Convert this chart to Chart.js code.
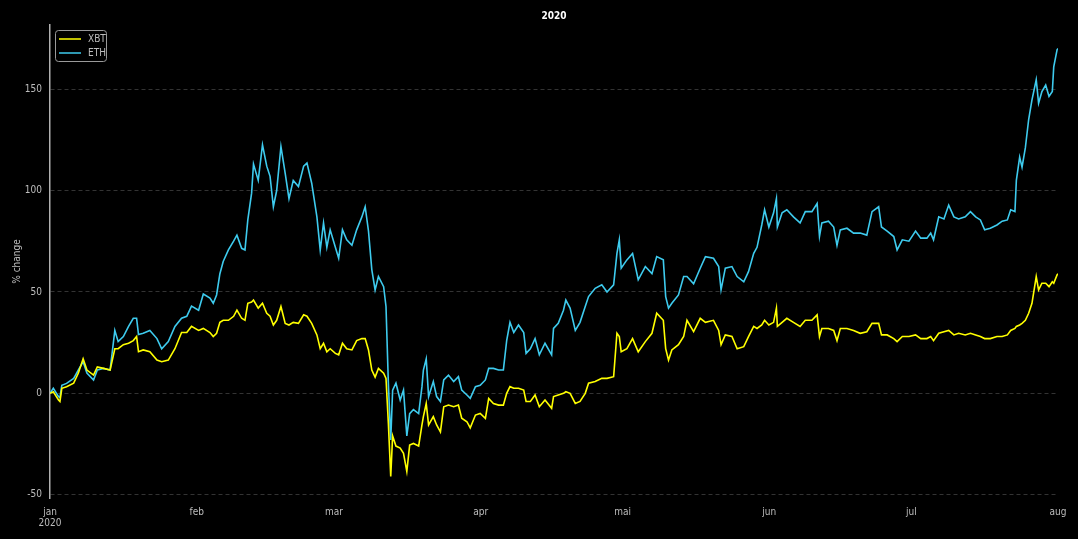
<!DOCTYPE html>
<html>
<head>
<meta charset="utf-8">
<script src="https://cdn.jsdelivr.net/npm/chart.js@4.4.0/dist/chart.umd.min.js"></script>
<style>
  html, body { margin: 0; padding: 0; background: #000; }
  #wrap { width: 1078px; height: 539px; }
</style>
</head>
<body>
<div id="wrap"><canvas id="pctChart" width="1078" height="539"></canvas></div>
<script>
// days since 1 jan 2020
const days = [0, 0.7, 1.8, 2.1, 2.5, 3.5, 5, 6, 7, 7.8, 9.2, 10, 11.3, 12.7, 13.7, 14.4, 15.5, 16.6, 17.6, 18.3,
  18.7, 19.7, 21.1, 22.6, 23.6, 25, 26.4, 27.8, 28.9, 29.9, 31.4, 32.4, 33.8, 34.5, 35.2, 35.9, 36.6, 37.7, 38.8, 39.5,
  40.5, 41.2, 41.8, 42.6, 43, 44, 44.9, 45.8, 46.5, 47.2, 47.9, 48.8, 49.7, 50.5, 51.4, 52.5, 53.6, 54.3, 55.3, 56.4,
  57.1, 57.8, 58.5, 59.2, 60.3, 61, 61.8, 62.7, 63.8, 64.8, 65.9, 66.6, 67.3, 68, 68.7, 69.4, 70.5, 71, 71.5, 72,
  72.4, 73.1, 74, 74.7, 75.4, 76, 76.8, 77.9, 78.6, 78.9, 79.5, 80, 81, 81.7, 82.5, 83.2, 84.2, 85.3, 86.3, 87,
  88.1, 88.8, 89.9, 90.9, 92, 92.7, 93.7, 94.8, 95.8, 96.5, 97.2, 98, 99, 100.1, 100.6, 101.5, 102.5, 103.4, 104.6, 106,
  106.4, 107.4, 108.5, 109, 109.9, 111, 112, 113.1, 113.8, 115.2, 116.6, 117.7, 119.1, 119.8, 120.3, 120.7, 121.9, 123.1, 124.3, 125.8,
  127.2, 128.2, 129.6, 130.1, 130.7, 131.4, 132.8, 133.9, 134.6, 136, 137.4, 138.5, 140.2, 141.3, 141.8, 142.7, 144.1, 145.2, 146.6, 147.6,
  148.7, 149.4, 150.4, 151, 151.9, 152.9, 153.5, 153.7, 154.7, 155.7, 157.1, 158.5, 159.6, 161, 162.1, 162.6, 163.1, 164.5, 165.6, 166.3,
  167, 168.4, 169.8, 171.2, 172.6, 173.7, 175.1, 175.7, 176.9, 178.3, 179, 180.1, 181.5, 182.9, 184, 185.3, 186.1, 186.7, 187.8, 188.9,
  189.9, 191, 192, 193.4, 194.5, 195.6, 196.6, 197.5, 198.7, 200.1, 201.2, 202.3, 203, 203.9, 204.2, 204.9, 205.4, 206.1, 206.8, 207.5,
  208.4, 208.9, 209.6, 210.4, 211.1, 211.8, 212.1, 212.8, 213];

const xbt = [0, 0.8, -3.3, -4, 2.5, 3.3, 5, 10, 17, 11.5, 9, 13, 12.3, 11.5, 22, 22, 24, 24.7, 26, 28,
  20.5, 21.4, 20.5, 16.4, 15.6, 16.4, 22, 30, 30, 33, 31, 32, 30, 28, 29.6, 35, 36, 36, 38, 41,
  37, 36, 44.4, 45, 46, 42, 44.4, 39.5, 38, 33.7, 36, 42.8, 34.5, 33.7, 35, 34.5, 38.7, 38, 34.5, 28.8,
  22, 24.7, 20.5, 22, 19.7, 19, 24.7, 22, 21.4, 26, 27, 27, 21.4, 11.5, 8, 12.3, 9.9, 7.4, -14.8, -41,
  -21, -26, -27, -29.6, -38.5, -25.5, -24.7, -26, -15.6, -11.5, -5, -15.6, -11.5, -15.6, -19, -6.6, -5.8, -6.6, -5.8, -12.3,
  -14, -17, -10.7, -9.9, -12.3, -2.5, -5, -5.8, -5.8, 0, 3.3, 2.5, 2.5, 1.6, -4, -4, -0.8, -6.6, -3.3, -7.4,
  -1.6, -0.8, 0, 0.8, 0, -5, -4, 0, 5, 5.8, 7.4, 7.4, 8.2, 29.6, 28, 20.5, 22, 27, 20.5, 25.5,
  29.6, 39.5, 36, 22, 16.4, 21.4, 24, 28, 36, 30.4, 37, 35, 36, 31, 24, 28.8, 28, 22, 23, 28,
  33, 32, 33.7, 36, 33.7, 35, 42, 33, 35, 37, 35, 33, 36, 36, 38.7, 28, 32, 32, 31, 26,
  32, 32, 31, 29.6, 30.4, 34.5, 34.5, 28.8, 28.8, 27, 25.5, 28, 28, 28.8, 27, 27, 28, 26, 29.6, 30.4,
  31, 28.8, 29.6, 28.8, 29.6, 28.8, 28, 27, 27, 28, 28, 28.8, 31, 32, 33, 33.7, 34.5, 36, 39.5, 44.4,
  57.6, 51, 54.3, 54.3, 52.6, 55, 54.3, 58.4, 59];

const eth = [0, 2.5, -1.6, -2, 4, 4.9, 7.4, 11.5, 15.6, 10, 6.6, 11.5, 12.3, 11.5, 31, 25.5, 28, 33, 37, 37,
  29, 29.6, 31, 27, 22, 25.5, 33, 37, 38, 43, 41, 49, 47, 44.4, 48.5, 59, 65, 70.7, 75, 78,
  71.5, 70.7, 85.5, 98.7, 113, 105, 122.5, 112, 107, 92, 100, 121.7, 108.5, 96, 105, 102, 112, 113.5, 103.6, 87,
  70.7, 84, 72, 80.6, 72, 66.6, 80.6, 75.7, 73, 80.6, 87, 92, 80, 61, 51, 57.6, 52.6, 42.8, 5, -23,
  1.6, 5, -3.3, 1.6, -21, -10, -8, -10, 3.3, 11.5, 17, -1.6, 5.8, -1.6, -4, 6.6, 9, 5.8, 8.2, 1.6,
  -0.8, -2.5, 3.3, 4, 6.6, 12.3, 12.3, 11.5, 11.5, 26, 35, 30, 33.7, 30, 19.7, 22, 27, 19, 24.7, 19,
  32, 34.5, 41, 46, 42, 31, 35, 42.8, 47.7, 51.8, 53.5, 50, 53.5, 69, 75.7, 61.7, 65.8, 69, 56, 62.5,
  59, 67.4, 65.8, 47.7, 42, 44.4, 48.5, 57.6, 57.6, 54, 61.7, 67.4, 66.6, 62.5, 51, 61.7, 62.5, 57.6, 55, 60,
  69, 72, 83, 90.5, 82, 89, 96, 82, 89, 90.5, 87, 84, 89.6, 89.6, 93.6, 77.3, 84, 84.9, 82, 73,
  80.6, 81.4, 79, 79, 78, 89.6, 92, 82, 80, 77.3, 70.7, 75.7, 75, 80, 76.5, 76.5, 79, 75.7, 87, 86,
  92.8, 87, 86, 87, 89.6, 87, 85.5, 80.6, 81.4, 83, 84.9, 85.5, 90.5, 89.6, 105, 116.5, 111.5, 121, 135, 144.7,
  154.6, 143, 148.8, 152, 146.4, 148.8, 161, 169.4, 170];

const monthStarts = [0, 31, 60, 91, 121, 152, 182, 213];
const monthLabels = [['jan', '2020'], 'feb', 'mar', 'apr', 'mai', 'jun', 'jul', 'aug'];
const yTicks = [-50, 0, 50, 100, 150];

const FONT = "'Liberation Sans Narrow', 'DejaVu Sans Condensed', 'Roboto', sans-serif";
const TEXT = '#bdbdbd';

// title centred over the plot area, like the original
const titlePlugin = {
  id: 'plotTitle',
  afterDraw(chart) {
    const {ctx, chartArea} = chart;
    ctx.save();
    ctx.fillStyle = '#ffffff';
    ctx.font = 'bold 10px ' + FONT;
    ctx.textAlign = 'center';
    ctx.textBaseline = 'middle';
    ctx.fillText('2020', (chartArea.left + chartArea.right) / 2, 16);
    ctx.restore();
  }
};

// legend box inside the plot, top-left
const legendPlugin = {
  id: 'insideLegend',
  afterDraw(chart) {
    const {ctx, chartArea} = chart;
    const x = chartArea.left + 5, y = chartArea.top + 5;
    ctx.save();
    ctx.fillStyle = '#000';
    ctx.strokeStyle = '#9a9a9a';
    ctx.lineWidth = 1;
    ctx.beginPath();
    ctx.roundRect(x + 0.5, y + 0.5, 51, 31, 3);
    ctx.fill();
    ctx.stroke();
    ctx.font = '10px ' + FONT;
    ctx.textBaseline = 'middle';
    ctx.textAlign = 'left';
    chart.data.datasets.forEach((ds, i) => {
      const ly = y + 9 + i * 14;
      ctx.strokeStyle = ds.borderColor;
      ctx.lineWidth = 1.5;
      ctx.beginPath();
      ctx.moveTo(x + 4, ly);
      ctx.lineTo(x + 26, ly);
      ctx.stroke();
      ctx.fillStyle = TEXT;
      ctx.fillText(ds.label, x + 33, ly + 0.5);
    });
    ctx.restore();
  }
};

const ctx = document.getElementById('pctChart').getContext('2d');
new Chart(ctx, {
  type: 'line',
  data: {
    datasets: [
      {
        label: 'XBT',
        data: days.map((d, i) => ({x: d, y: xbt[i]})),
        borderColor: '#ffff00',
        borderWidth: 1.6,
        pointRadius: 0,
        tension: 0,
      },
      {
        label: 'ETH',
        data: days.map((d, i) => ({x: d, y: eth[i]})),
        borderColor: '#3ecbee',
        borderWidth: 1.6,
        pointRadius: 0,
        tension: 0,
      },
    ],
  },
  options: {
    responsive: false,
    animation: false,
    layout: { padding: { top: 25, right: 20, left: 11, bottom: 0 } },
    plugins: {
      legend: { display: false },
      title: { display: false },
      tooltip: { enabled: false },
    },
    scales: {
      x: {
        type: 'linear',
        min: 0,
        max: 213,
        afterBuildTicks: (s) => { s.ticks = monthStarts.map((v) => ({value: v})); },
        afterFit: (s) => { s.height = 41; },
        ticks: {
          color: TEXT,
          font: { family: FONT, size: 10, lineHeight: 1.1 },
          maxRotation: 0,
          autoSkip: false,
          padding: 1,
          callback: (v, i) => monthLabels[i],
        },
        grid: { display: false },
        border: { display: false },
      },
      y: {
        min: -51.6,
        max: 181.6,
        afterBuildTicks: (s) => { s.ticks = yTicks.map((v) => ({value: v})); },
        afterFit: (s) => { s.width = 39; },
        ticks: {
          color: TEXT,
          font: { family: FONT, size: 10 },
          padding: 8,
        },
        grid: { color: '#333333', lineWidth: 1, drawTicks: false },
        border: { display: true, color: '#b0b0b0', width: 1.5, dash: [4, 3] },
        title: {
          display: true,
          text: '% change',
          color: TEXT,
          font: { family: FONT, size: 10 },
          padding: { top: 0, bottom: 4 },
        },
      },
    },
  },
  plugins: [titlePlugin, legendPlugin],
});
</script>
</body>
</html>
